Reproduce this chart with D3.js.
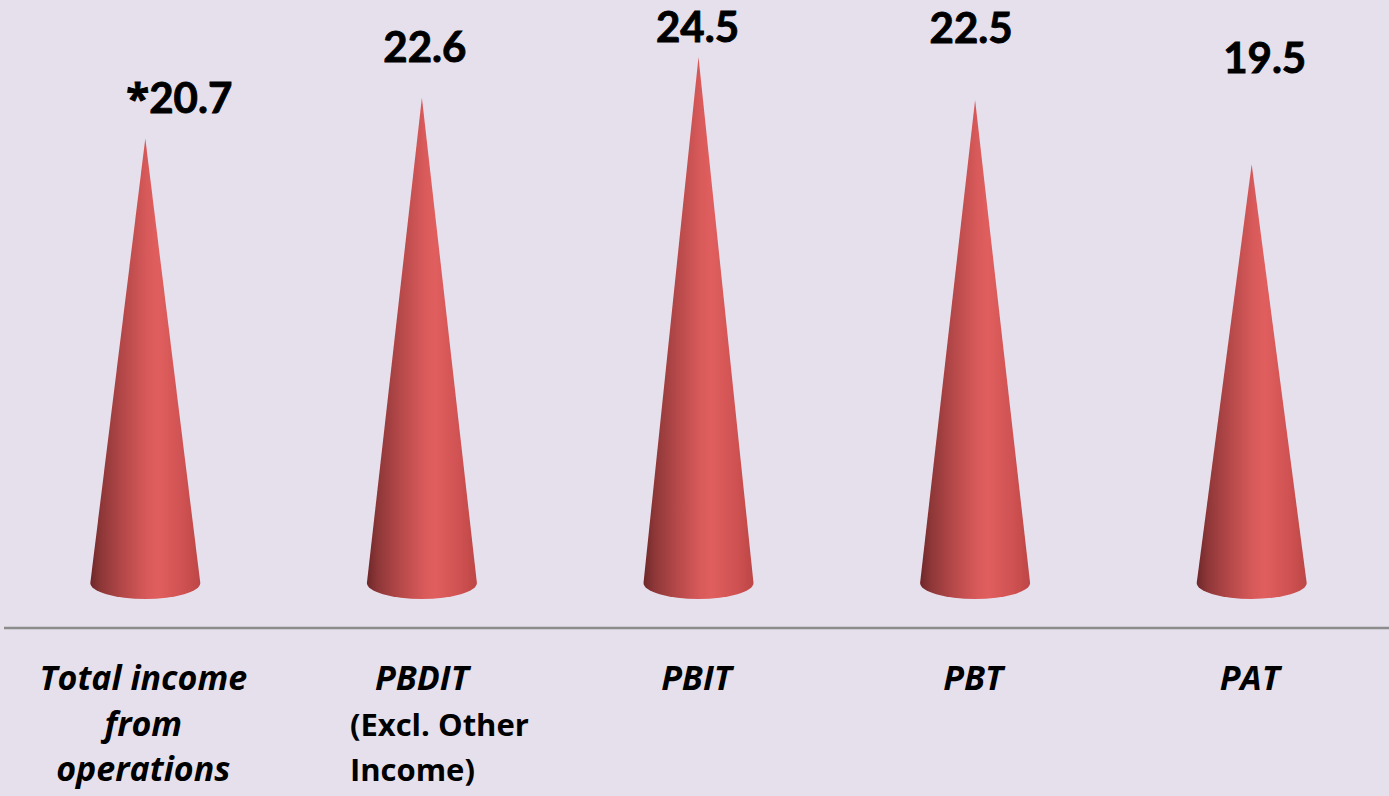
<!DOCTYPE html>
<html>
<head>
<meta charset="utf-8">
<script src="https://cdn.jsdelivr.net/npm/d3@7"></script>
<style>
  html, body { margin: 0; padding: 0; background: #e6e0ec; }
  svg { display: block; }
</style>
</head>
<body>
<svg id="chart" width="1389" height="796"></svg>
<script>
// Growth figures (%) per profit line
const categories = ["Total income from operations", "PBDIT", "PBIT", "PBT", "PAT"];
const values = [20.7, 22.6, 24.5, 22.5, 19.5];
const valueLabels = ["*20.7", "22.6", "24.5", "22.5", "19.5"];
// Axis label lines: [text, italic?]
const axisLabelLines = [
  [["Total income", true], ["from", true], ["operations", true]],
  [["PBDIT", true], ["(Excl. Other", false], ["Income)", false]],
  [["PBIT", true]],
  [["PBT", true]],
  [["PAT", true]]
];

// Layout of the value labels: horizontal shift and baseline, in pixels
const labelLayout = [[34, 113], [3, 62], [-1, 42], [-4, 43], [13, 73]];

const W = 1389, H = 796;
const svg = d3.select("#chart");

svg.append("rect").attr("width", W).attr("height", H).attr("fill", "#e6e0ec");

const x = d3.scaleBand().domain(categories).range([7, 1390]).padding(0);
const y = d3.scaleLinear().domain([0, 24.5]).range([583, 57]);

const halfW = 55, ry = 16;
const FONT = "'Open Sans', 'Noto Sans', sans-serif";
const VALUE_FONT = "Lato, 'Open Sans', sans-serif";

// Horizontal shading across each cone body
const defs = svg.append("defs");
const grad = defs.append("linearGradient")
  .attr("id", "coneShade").attr("x1", "0%").attr("x2", "100%").attr("y1", "0%").attr("y2", "0%");
[
  [0, "#6e2729"], [0.1, "#8e3738"], [0.3, "#b54849"], [0.52, "#d95a5a"],
  [0.62, "#e05e5e"], [0.85, "#cf5151"], [1, "#bd4646"]
].forEach(([o, c]) => grad.append("stop").attr("offset", o).attr("stop-color", c));

svg.append("g").selectAll("path").data(values).join("path")
  .attr("fill", "url(#coneShade)")
  .attr("d", (v, i) => {
    const cx = x(categories[i]) + x.bandwidth() / 2;
    const base = y(0), tip = y(v);
    return `M${cx},${tip} L${cx + halfW},${base} A${halfW},${ry} 0 0 1 ${cx - halfW},${base} Z`;
  });

// Value labels (a leading asterisk uses a heavier glyph)
svg.append("g").selectAll("text").data(valueLabels).join("text")
  .attr("x", (d, i) => x(categories[i]) + x.bandwidth() / 2 + labelLayout[i][0])
  .attr("y", (d, i) => labelLayout[i][1])
  .attr("text-anchor", "middle")
  .attr("font-family", VALUE_FONT)
  .attr("font-weight", "bold")
  .attr("font-size", 42)
  .attr("fill", "#000")
  .attr("stroke", "#000")
  .attr("stroke-width", 0.9)
  .each(function (d) {
    const t = d3.select(this);
    if (d.startsWith("*")) {
      t.append("tspan").attr("font-family", FONT).text("*");
      t.append("tspan").text(d.slice(1));
    } else {
      t.text(d);
    }
  });

// Category axis line
svg.append("line")
  .attr("x1", 4).attr("x2", W).attr("y1", 628).attr("y2", 628)
  .attr("stroke", "#8c8c8c").attr("stroke-width", 2.5);

// Category labels
const lineBase = [690, 736, 781];
const labelG = svg.append("g");
axisLabelLines.forEach((lines, i) => {
  const cx = x(categories[i]) + x.bandwidth() / 2;
  lines.forEach(([t, italic], j) => {
    const txt = labelG.append("text")
      .attr("y", lineBase[j])
      .attr("font-family", FONT)
      .attr("font-weight", "bold")
      .attr("fill", "#000")
      .text(t);
    if (italic) {
      txt.attr("x", cx - (i === 1 ? 0 : 2)).attr("text-anchor", "middle")
        .attr("font-style", "italic").attr("font-size", 34);
    } else {
      txt.attr("x", cx - 72).attr("text-anchor", "start").attr("font-size", 31);
    }
  });
});
</script>
</body>
</html>
